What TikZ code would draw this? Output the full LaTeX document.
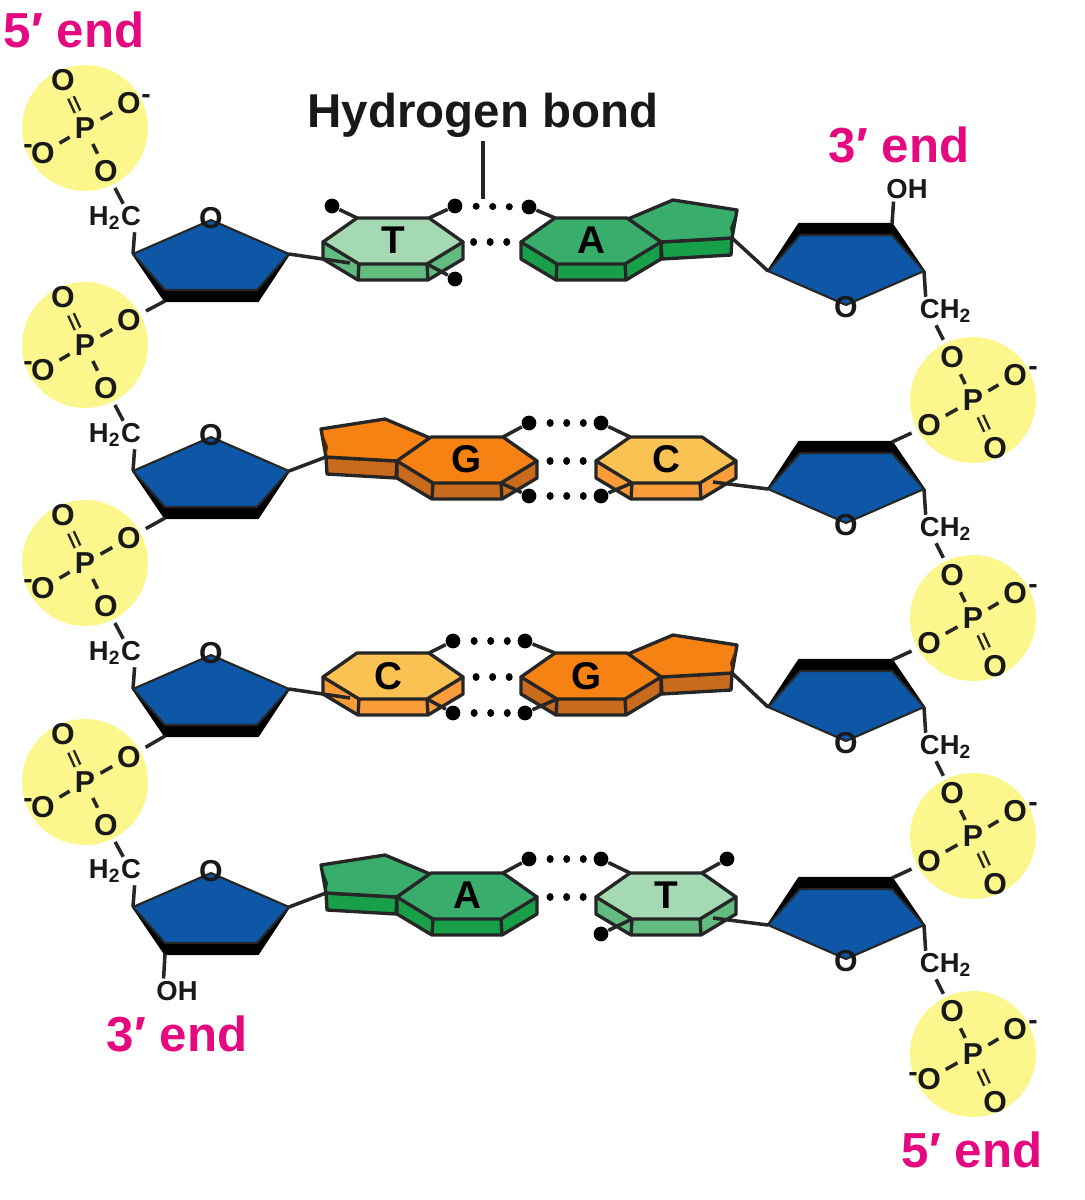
\documentclass[tikz,border=0pt]{standalone}
\usepackage{fontspec}
\setmainfont{Liberation Sans}
\usetikzlibrary{positioning}

\definecolor{sugarblue}{HTML}{0E56A6}
\definecolor{phosyellow}{HTML}{FCF78C}
\definecolor{endpink}{HTML}{E4097F}
\definecolor{bondgray}{HTML}{262626}
\definecolor{ttop}{HTML}{A5D9B3}
\definecolor{tside}{HTML}{62BC80}
\definecolor{atop}{HTML}{39AE6C}
\definecolor{aside}{HTML}{18A049}
\definecolor{gtop}{HTML}{F58213}
\definecolor{gside}{HTML}{C86B1C}
\definecolor{ctop}{HTML}{FAC153}
\definecolor{cside}{HTML}{FA9C3A}

\tikzset{
  letter/.style={},
  pics/phos/.style={code={
    \fill[phosyellow] (0,0) circle (63);
    \node[atom] (-p) at (0,0) {P};
    \node[atom] (-a) at (-22,-48) {O};
    \node[atom] (-b) at (44,-25) {O};
    \node[atom] (-c) at (-42,25) {O};
    \node[atom] (-d) at (21,43) {O};
    \draw[link, double=phosyellow, double distance=1pt, line width=0.7pt] (-p) -- (-a);
    \draw[link] (-p) -- (-b);
    \draw[link] (-p) -- (-c);
    \draw[link] (-p) -- (-d);
  }},
  pics/sugar/.style={code={
    \coordinate (-c1) at (-78,34);
    \coordinate (-c3) at (78,34);
    \coordinate (-lo) at (-46,81);
    \fill[black, draw=black, line width=0.6pt, line join=round] (-c1) -- (-lo) -- (47,81) -- (-c3) -- cycle;
    \fill[sugarblue, draw=bondgray, line width=0.6pt, line join=round] (0,0) -- (-c3) -- (46,70) -- (-46,70) -- (-c1) -- cycle;
    \node[atom] (-o) at (0,-2) {O};
  }},
  pics/hexbase/.style n args={3}{code={
    \coordinate (-tl) at (-36,-24);
    \coordinate (-tr) at (36,-24);
    \coordinate (-ll) at (-34,22);
    \coordinate (-lr) at (34,22);
    \coordinate (-l) at (-70,0);
    \coordinate (-r) at (70,0);
    \coordinate (-gl) at (-43,21);
    \coordinate (-gr) at (47,21);
    \filldraw[face, fill=#2] (-l) -- (-70,17) -- (-35,38) -- (35,38) -- (70,17) -- (-r) -- cycle;
    \filldraw[face, fill=#1] (-tl) -- (-tr) -- (-r) -- (-lr) -- (-ll) -- (-l) -- cycle;
    \draw[face] (-ll) -- (-35,38);
    \draw[face] (-lr) -- (35,38);
    \node[baseletter, letter] (-x) at (0,-2) {#3};
  }},
  pics/fivering/.style n args={2}{code={
    \coordinate (-g) at (141,-4);
    \filldraw[face, fill=#2] (70,0) -- (-g) -- (140,13) -- (71,17) -- cycle;
    \filldraw[face, fill=#1] (37,-23) -- (82,-42) -- (146,-32) -- (-g) -- (70,0) -- cycle;
    \fill[black!70!#1] (146,-32) -- (-g) -- (139,-14) -- cycle;
  }}
}

\begin{document}
\begin{tikzpicture}[x=0.01cm, y=-0.01cm]
   \tikzstyle{atom}=[font=\bfseries\fontsize{8.6pt}{10pt}\selectfont, text=black!90, circle, inner sep=0.4pt, outer sep=0.4pt]
   \tikzstyle{chem}=[font=\bfseries\fontsize{7.8pt}{9pt}\selectfont, text=black!90, inner sep=0.6pt]
   \tikzstyle{chg}=[font=\bfseries\fontsize{8pt}{9pt}\selectfont, text=black!90, inner sep=0pt]
   \tikzstyle{baseletter}=[font=\bfseries\fontsize{11pt}{12pt}\selectfont, text=black, inner sep=0pt]
   \tikzstyle{endlabel}=[font=\bfseries\fontsize{14pt}{15pt}\selectfont, text=endpink, inner sep=0pt]
   \tikzstyle{link}=[draw=bondgray, line width=1pt]
   \tikzstyle{face}=[draw=bondgray, line width=0.95pt, line join=round]
   \tikzstyle{bigdot}=[circle, fill=black, inner sep=0pt, minimum size=4.2pt]
   \tikzstyle{hbond}=[black, line width=2pt, line cap=round, dash pattern=on 0.01pt off 4.7pt, dash phase=1pt]
   \useasboundingbox (0,0) rectangle (1084,1200);

% phosphates
\foreach \y [count=\i] in {128,345,563,782}
    \pic (pl\i) at (85,\y) {phos};
\foreach \y [count=\i] in {400,618,836,1054}
    \pic[rotate=180] (pr\i) at (973,\y) {phos};

% sugars
\foreach \y [count=\i] in {220,437,655,873}
    \pic (sl\i) at (211,\y) {sugar};
\foreach \y [count=\i] in {305,523,741,959}
    \pic[rotate=180] (sr\i) at (846,\y) {sugar};

% bases
\pic (t1) at (393,242) {hexbase={ttop}{tside}{T}};
\pic (af1) at (591,242) {fivering={atop}{aside}};
\pic (a1) at (591,242) {hexbase={atop}{aside}{A}};
\pic[xscale=-1] (gf2) at (467,461) {fivering={gtop}{gside}};
\pic (g2) at (467,461) {hexbase={gtop}{gside}{G}};
\pic (c2) at (666,461) {hexbase={ctop}{cside}{C}};
\pic[letter/.style={xshift=-1.4pt, yshift=-0.4pt}] (c3) at (393,677) {hexbase={ctop}{cside}{C}};
\pic (gf3) at (591,677) {fivering={gtop}{gside}};
\pic[letter/.style={xshift=-1.4pt, yshift=-0.4pt}] (g3) at (591,677) {hexbase={gtop}{gside}{G}};
\pic[xscale=-1] (af4) at (467,897) {fivering={atop}{aside}};
\pic (a4) at (467,897) {hexbase={atop}{aside}{A}};
\pic (t4) at (666,897) {hexbase={ttop}{tside}{T}};

% sugar to base
\draw[link] (sl1-c3) -- (t1-gl);
\draw[link] (sl2-c3) -- (gf2-g);
\draw[link] (sl3-c3) -- (c3-gl);
\draw[link] (sl4-c3) -- (af4-g);
\draw[link] (sr1-c3) -- (af1-g);
\draw[link] (sr2-c3) -- (c2-gr);
\draw[link] (sr3-c3) -- (gf3-g);
\draw[link] (sr4-c3) -- (t4-gr);

% backbone
\foreach \y [count=\i] in {218,435,653,871}
    \node[chem] (hl\i) at (115,\y) {H\textsubscript{2}C};
\foreach \y [count=\i] in {311,529,747,965}
    \node[chem] (hr\i) at (946,\y) {CH\textsubscript{2}};
\foreach \i in {1,2,3,4} {
    \draw[link] (pl\i-d) -- (hl\i.60);
    \draw[link] (hl\i.-36) -- (sl\i-c1);
    \draw[link] (sr\i-c1) -- (hr\i.145);
    \draw[link] (hr\i.-125) -- (pr\i-d);
}
\draw[link] (sl1-lo) -- (pl2-b);
\draw[link] (sl2-lo) -- (pl3-b);
\draw[link] (sl3-lo) -- (pl4-b);
\draw[link] (sr2-lo) -- (pr1-b);
\draw[link] (sr3-lo) -- (pr2-b);
\draw[link] (sr4-lo) -- (pr3-b);
\node[chem] (ohl) at (177,991) {OH};
\node[chem] (ohr) at (907,189) {OH};
\draw[link] (sl4-lo) -- (ohl.137);
\draw[link] (sr1-lo) -- (ohr.-137);

% charges
\foreach \i in {1,2,3,4} {
    \node[chg] (ml\i) at ([shift={(-15,-4)}]pl\i-c) {-};
    \node[chg] (mr\i) at ([shift={(18,-4)}]pr\i-c) {-};
}
\node[chg] (ml0) at ([shift={(17,-4)}]pl1-b) {-};
\node[chg] (mr0) at ([shift={(-16,-2)}]pr4-b) {-};

% hydrogen bonds, row by row
\node[bigdot] (d1) at (332,206) {};
\node[bigdot] (d2) at (455,206) {};
\node[bigdot] (d3) at (529,207) {};
\node[bigdot] (d4) at (455,279) {};
\draw[link] (t1-tl) -- (d1);
\draw[link] (t1-tr) -- (d2);
\draw[link] (a1-tl) -- (d3);
\draw[link] (t1-lr) -- (d4);
\draw[hbond] (d2) -- (d3);
\draw[hbond, dash phase=1.7pt] (t1-r) -- (a1-l);

\node[bigdot] (d5) at (529,423) {};
\node[bigdot] (d6) at (601,423) {};
\node[bigdot] (d7) at (529,496) {};
\node[bigdot] (d8) at (601,496) {};
\draw[link] (g2-tr) -- (d5);
\draw[link] (c2-tl) -- (d6);
\draw[link] (g2-lr) -- (d7);
\draw[link] (c2-ll) -- (d8);
\draw[hbond] (d5) -- (d6);
\draw[hbond] (d7) -- (d8);
\draw[hbond] (g2-r) -- (c2-l);

\node[bigdot] (d9) at (453,641) {};
\node[bigdot] (d10) at (525,641) {};
\node[bigdot] (d11) at (453,713) {};
\node[bigdot] (d12) at (525,713) {};
\draw[link] (c3-tr) -- (d9);
\draw[link] (g3-tl) -- (d10);
\draw[link] (c3-lr) -- (d11);
\draw[link] (g3-ll) -- (d12);
\draw[hbond] (d9) -- (d10);
\draw[hbond] (d11) -- (d12);
\draw[hbond] (c3-r) -- (g3-l);

\node[bigdot] (d13) at (529,859) {};
\node[bigdot] (d14) at (601,859) {};
\node[bigdot] (d15) at (727,859) {};
\node[bigdot] (d16) at (601,934) {};
\draw[link] (a4-tr) -- (d13);
\draw[link] (t4-tl) -- (d14);
\draw[link] (t4-tr) -- (d15);
\draw[link] (t4-ll) -- (d16);
\draw[hbond] (d13) -- (d14);
\draw[hbond] (a4-r) -- (t4-l);

% labels
\node[font=\bfseries\fontsize{13.5pt}{15pt}\selectfont, text=black!90, inner sep=1pt] (hblabel) at (483,115) {Hydrogen bond};
\coordinate (hbfoot) at (483,199);
\draw[link] (hblabel) -- (hbfoot);
\node[endlabel] (end1) at (74,30) {5′ end};
\node[endlabel] (end2) at (899,145) {3′ end};
\node[endlabel] (end3) at (177,1034) {3′ end};
\node[endlabel] (end4) at (972,1150) {5′ end};

\end{tikzpicture}
\end{document}
